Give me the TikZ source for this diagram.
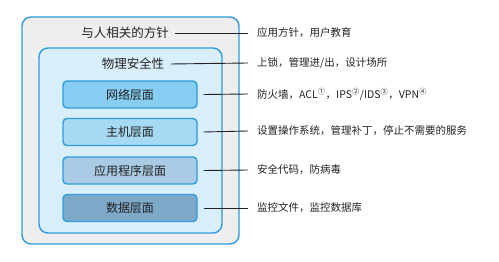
\documentclass[tikz,border=0pt]{standalone}
\usepackage{fontspec}
\setmainfont{Noto Sans CJK SC}
\usetikzlibrary{positioning}
\definecolor{rim}{HTML}{2E9BDB}
\definecolor{outerbg}{HTML}{EEEEEE}
\definecolor{innerbg}{HTML}{D8EFFB}
\definecolor{netbg}{HTML}{86CDF1}
\definecolor{hostbg}{HTML}{A6D9F4}
\definecolor{appbg}{HTML}{A9CBE3}
\definecolor{databg}{HTML}{7FA9C9}
\definecolor{ink}{HTML}{222222}
\tikzset{
  frame/.style={draw=rim,line width=1.4pt,rounded corners=9pt},
  layerbox/.style={draw=rim,line width=1.4pt,rounded corners=4pt,
    minimum width=134pt,minimum height=27pt,text=ink,
    font=\fontsize{12}{12}\selectfont},
  head/.style={text=ink,font=\fontsize{12.5}{12.5}\selectfont},
  note/.style={anchor=west,inner sep=0pt,text=ink,
    font=\fontsize{10.5}{10.5}\selectfont},
  lead/.style={draw=ink,line width=.9pt}
}
\begin{document}
\begin{tikzpicture}[x=1pt,y=-1pt]
  \useasboundingbox (0,0) rectangle (499,262);
  \draw[frame,fill=outerbg] (22,17) rectangle (239,244);
  \draw[frame,fill=innerbg] (39,48) rectangle (222,233);
  % layers
  \node[layerbox,fill=netbg] (net) at (130,94.5) {网络层面};
  \node[layerbox,fill=hostbg] (host) at (130,132) {主机层面};
  \node[layerbox,fill=appbg] (app) at (130,170.5) {应用程序层面};
  \node[layerbox,fill=databg] (data) at (130,208) {数据层面};
  \node[head] (people) at (125,33) {与人相关的方针};
  \node[head] (phys) at (133,64) {物理安全性};
  % notes
  \node[note] (peopleT) at (257,33) {应用方针，用户教育};
  \node[note] (physT) at (257,63) {上锁，管理进/出，设计场所};
  \node[note] (netT) at (257,94) {防火墙，ACL\textsuperscript{①}，IPS\textsuperscript{②}/IDS\textsuperscript{③}，VPN\textsuperscript{④}};
  \node[note] (hostT) at (257,131) {设置操作系统，管理补丁，停止不需要的服务};
  \node[note] (appT) at (257,170) {安全代码，防病毒};
  \node[note] (dataT) at (257,208) {监控文件，监控数据库};
  \draw[lead] ([xshift=3pt]people.east) -- ([xshift=-9pt]peopleT.west);
  \draw[lead] ([xshift=3pt]phys.east) -- ([xshift=-9pt]physT.west);
  \foreach \a/\b in {net/netT,host/hostT,app/appT,data/dataT}
    \draw[lead] ([xshift=6pt]\a.east) -- ([xshift=-9pt]\b.west);
\end{tikzpicture}
\end{document}
